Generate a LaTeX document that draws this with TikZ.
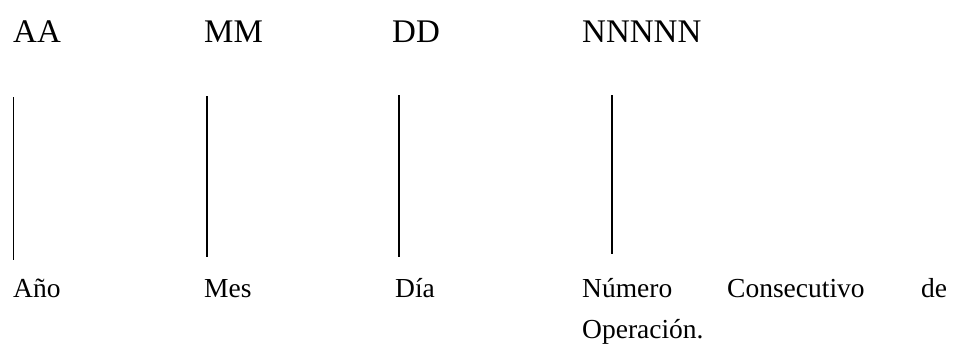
\documentclass[tikz,border=0pt]{standalone}
\usepackage{fontspec}
\setmainfont{Liberation Serif}
\begin{document}
\begin{tikzpicture}[x=1pt,y=-1pt,
  code/.style={anchor=base west,inner sep=0pt,font=\fontsize{33}{39}\selectfont},
  label/.style={anchor=base west,inner sep=0pt,font=\fontsize{27.5}{33}\selectfont},
  tick/.style={line width=1.7pt}]
\useasboundingbox (0,0) rectangle (970,349);
% field codes
\node[code] (aa) at (13,42) {AA};
\node[code] (mm) at (204,42) {MM};
\node[code] (dd) at (392,42) {DD};
\node[code] (nn) at (582,42) {NNNNN};
% vertical markers
\coordinate (aat) at (13.5,97);  \coordinate (aab) at (13.5,260);
\coordinate (mmt) at (207,96);   \coordinate (mmb) at (207,257);
\coordinate (ddt) at (399,95);   \coordinate (ddb) at (399,257);
\coordinate (nnt) at (612,95);   \coordinate (nnb) at (612,254);
\draw[tick] (aat) -- (aab);
\draw[tick] (mmt) -- (mmb);
\draw[tick] (ddt) -- (ddb);
\draw[tick] (nnt) -- (nnb);
% field descriptions
\node[label] (anio) at (13,297) {Año};
\node[label] (mes) at (204,297) {Mes};
\node[label] (dia) at (395,297) {Día};
\node[label] (num) at (582,297) {Número};
\node[label] (cons) at (727,297) {Consecutivo};
\node[label] (de) at (921,297) {de};
\node[label] (oper) at (582,338) {Operación.};
\end{tikzpicture}
\end{document}
